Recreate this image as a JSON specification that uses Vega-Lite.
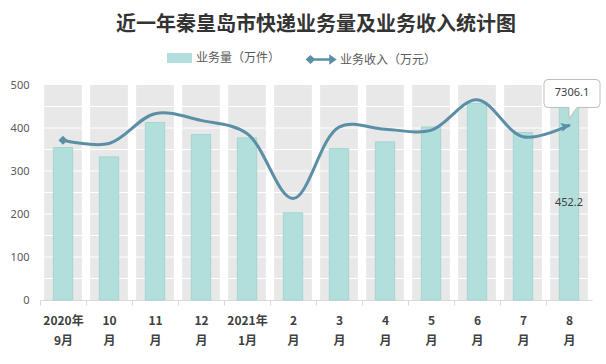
{
  "$schema": "https://vega.github.io/schema/vega-lite/v6.json",
  "width": 552,
  "height": 215,
  "autosize": {"type": "none"},
  "padding": {"left": 40, "top": 85, "right": 14, "bottom": 64},
  "background": "#ffffff",
  "config": {
    "view": {"stroke": null},
    "font": "Noto Sans CJK SC"
  },
  "title": {
    "text": "近一年秦皇岛市快递业务量及业务收入统计图",
    "font": "Noto Sans CJK SC",
    "fontSize": 20,
    "fontWeight": "bold",
    "color": "#333333",
    "anchor": "middle",
    "offset": 13
  },
  "datasets": {
    "months": [
      {"month": "2020年9月", "volume": 354.6, "income": 6690},
      {"month": "10月", "volume": 332.8, "income": 6550},
      {"month": "11月", "volume": 412.7, "income": 7800},
      {"month": "12月", "volume": 384.8, "income": 7520},
      {"month": "2021年1月", "volume": 377.0, "income": 6970},
      {"month": "2月", "volume": 202.8, "income": 4250},
      {"month": "3月", "volume": 352.0, "income": 7240},
      {"month": "4月", "volume": 367.7, "income": 7150},
      {"month": "5月", "volume": 402.5, "income": 7100},
      {"month": "6月", "volume": 456.7, "income": 8380},
      {"month": "7月", "volume": 389.4, "income": 6830},
      {"month": "8月", "volume": 452.2, "income": 7306.1}
    ],
    "grid": [
      {"g": 50}, {"g": 100}, {"g": 150}, {"g": 200}, {"g": 250},
      {"g": 300}, {"g": 350}, {"g": 400}, {"g": 450}
    ]
  },
  "data": {"name": "months"},
  "encoding": {
    "x": {
      "field": "month", "type": "nominal", "sort": null,
      "scale": {"paddingInner": 0, "paddingOuter": 0},
      "axis": {
        "title": null, "labelAngle": 0, "domainColor": "#d9d9d9", "tickColor": "#d9d9d9",
        "tickSize": 5, "tickOffset": -23, "labelOffset": 23, "labelFont": "Noto Sans CJK SC", "labelFontSize": 12,
        "labelFontWeight": "bold", "labelColor": "#404040", "labelPadding": 10, "labelLineHeight": 20,
        "orient": "bottom",
        "labelExpr": "indexof(datum.value,'年')>0 ? [slice(datum.value,0,5), slice(datum.value,5)] : [replace(datum.value,'月',''), '月']"
      }
    }
  },
  "layer": [
    {
      "layer": [
        {
          "mark": {"type": "bar", "fill": "#e8e8e8", "width": {"band": 0.82}},
          "encoding": {
            "y": {"value": 0},
            "y2": {"value": "height"}
          }
        },
        {
          "data": {"name": "grid"},
          "mark": {"type": "rule", "color": "#ffffff", "strokeWidth": 1},
          "encoding": {
            "x": {"value": 0},
            "x2": {"value": "width"},
            "y": {
              "field": "g", "type": "quantitative",
              "axis": {"values": [0, 50, 100, 150, 200, 250, 300, 350, 400, 450, 500], "title": null, "orient": "left",
                "labelOverlap": false, "tickCount": 10,
                "labelFont": "Noto Sans", "labelFontSize": 11, "labelColor": "#595959", "labelPadding": 11,
                "ticks": false, "domain": false, "grid": false}
            }
          }
        },
        {
          "mark": {"type": "bar", "width": {"band": 0.42}, "stroke": "#a2d6d1", "strokeWidth": 1},
          "encoding": {
            "y": {
              "field": "volume", "type": "quantitative",
              "scale": {"domain": [0, 500]},
              "axis": {"values": [0, 50, 100, 150, 200, 250, 300, 350, 400, 450, 500], "title": null, "orient": "left",
                "labelOverlap": false, "tickCount": 10,
                "labelFont": "Noto Sans", "labelFontSize": 11, "labelColor": "#595959", "labelPadding": 11,
                "ticks": false, "domain": false, "grid": false}
            },
            "fill": {
              "datum": "业务量（万件）",
              "scale": {"range": ["#b2dfdb"]},
              "legend": {
                "orient": "none", "legendX": 129.5, "legendY": -37, "title": null, "padding": 0,
                "symbolType": "M-1.25,-0.5H1.25V0.5H-1.25Z", "symbolSize": 400, "symbolStrokeWidth": 0,
                "labelOffset": 6.5, "labelFont": "Noto Sans CJK SC", "labelFontSize": 12, "labelColor": "#595959"
              }
            }
          }
        },
        {
          "transform": [{"filter": "datum.month == '8月'"}],
          "mark": {"type": "text", "dy": 97, "fontSize": 11, "color": "#404040", "font": "Noto Sans", "baseline": "middle"},
          "encoding": {
            "y": {
              "field": "volume", "type": "quantitative",
              "axis": {"values": [0, 50, 100, 150, 200, 250, 300, 350, 400, 450, 500], "title": null, "orient": "left",
                "labelOverlap": false, "tickCount": 10,
                "labelFont": "Noto Sans", "labelFontSize": 11, "labelColor": "#595959", "labelPadding": 11,
                "ticks": false, "domain": false, "grid": false}
            },
            "text": {"field": "volume", "type": "quantitative", "format": ".1f"}
          }
        }
      ]
    },
    {
      "layer": [
        {
          "mark": {"type": "line", "interpolate": "catmull-rom", "strokeWidth": 3, "strokeCap": "round"},
          "encoding": {
            "y": {"field": "income", "type": "quantitative", "scale": {"domain": [0, 9000]}, "axis": null},
            "stroke": {
              "datum": "业务收入（万元）",
              "scale": {"range": ["#5b8fa6"]},
              "legend": {
                "orient": "none", "legendX": 269.5, "legendY": -37, "title": null, "padding": 0,
                "symbolType": "M-1.35,0H1.1M-1.35,0L-1.05,-0.28L-0.75,0L-1.05,0.28Z M1.35,0L0.95,-0.28L0.95,0.28Z",
                "symbolSize": 400, "symbolStrokeWidth": 2.5, "symbolFillColor": "#5b8fa6",
                "labelOffset": 7.5, "labelFont": "Noto Sans CJK SC", "labelFontSize": 12, "labelColor": "#595959"
              }
            }
          }
        },
        {
          "transform": [{"filter": "datum.month == '2020年9月'"}],
          "mark": {"type": "point", "shape": "diamond", "filled": true, "size": 80, "color": "#5b8fa6", "opacity": 1},
          "encoding": {
            "y": {"field": "income", "type": "quantitative", "axis": null}
          }
        },
        {
          "transform": [{"filter": "datum.month == '8月'"}],
          "mark": {"type": "point", "shape": "M1,0L-8,-4.5L-6,0L-8,4.5Z", "size": 4, "angle": -13, "filled": true, "color": "#5b8fa6", "opacity": 1},
          "encoding": {
            "y": {"field": "income", "type": "quantitative", "axis": null}
          }
        },
        {
          "transform": [{"filter": "datum.month == '8月'"}],
          "mark": {"type": "point", "shape": "M-21,-46H27Q31,-46 31,-42V-22Q31,-18 27,-18H8L0,-7L0,-18H-21Q-25,-18 -25,-22V-42Q-25,-46 -21,-46Z", "size": 4, "filled": true, "fill": "#ffffff", "stroke": "#bfbfbf", "strokeWidth": 1, "opacity": 1},
          "encoding": {
            "y": {"field": "income", "type": "quantitative", "axis": null}
          }
        },
        {
          "transform": [{"filter": "datum.month == '8月'"}],
          "mark": {"type": "text", "dx": 3, "dy": -32, "fontSize": 11, "color": "#404040", "font": "Noto Sans", "baseline": "middle", "align": "center"},
          "encoding": {
            "y": {"field": "income", "type": "quantitative", "axis": null},
            "text": {"field": "income", "type": "quantitative", "format": ".1f"}
          }
        }
      ]
    }
  ],
  "resolve": {"scale": {"y": "independent"}}
}
